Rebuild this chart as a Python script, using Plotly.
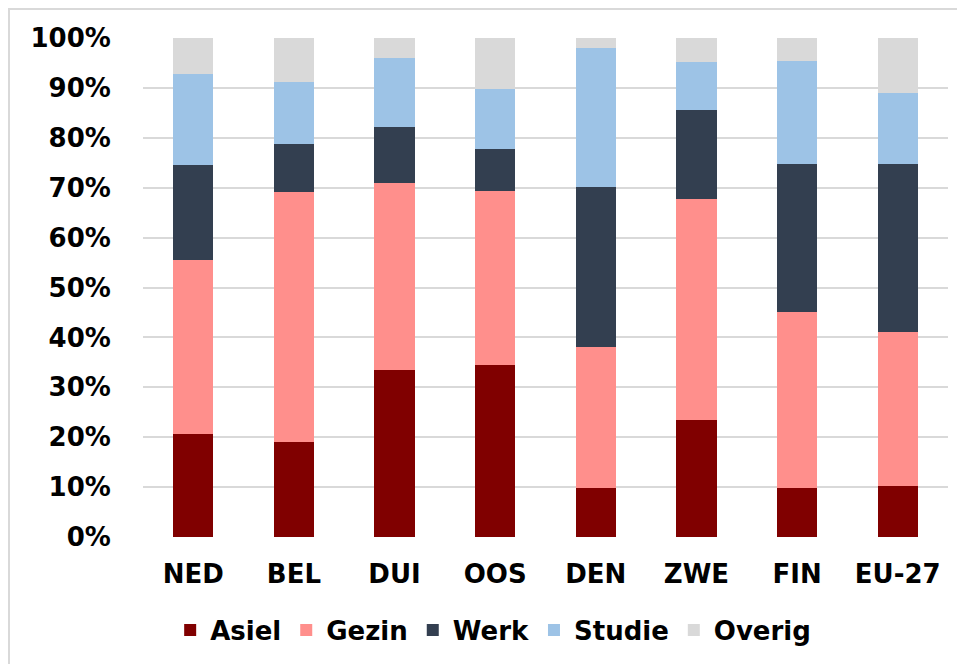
import plotly.graph_objects as go

categories = ["NED", "BEL", "DUI", "OOS", "DEN", "ZWE", "FIN", "EU-27"]
asiel = [20.6, 19.0, 33.4, 34.4, 9.8, 23.4, 9.8, 10.2]
gezin = [35.0, 50.2, 37.6, 35.0, 28.2, 44.4, 35.2, 30.8]
werk = [19.0, 9.6, 11.2, 8.4, 32.2, 17.8, 29.8, 33.8]
studie = [18.2, 12.4, 13.8, 12.0, 27.8, 9.6, 20.6, 14.2]
overig = [7.2, 8.8, 4.0, 10.2, 2.0, 4.8, 4.6, 11.0]

series = [
    ("Asiel", asiel, "#800000"),
    ("Gezin", gezin, "#FF8F8C"),
    ("Werk", werk, "#333F50"),
    ("Studie", studie, "#9DC3E6"),
    ("Overig", overig, "#D9D9D9"),
]

FONT = "DejaVu Sans"
FS = 26

fig = go.Figure()
for name, vals, col in series:
    fig.add_trace(go.Bar(x=categories, y=vals, name=name,
                         marker=dict(color=col, line=dict(width=0))))

fig.update_layout(
    barmode="stack",
    bargap=0.6,
    width=957, height=656,
    margin=dict(l=135, r=17, t=30, b=126),
    paper_bgcolor="white", plot_bgcolor="white",
    font=dict(family=FONT, size=FS, color="black"),
    showlegend=True,
    legend=dict(orientation="h", x=0.435, xanchor="center", y=-0.184, yanchor="middle",
                font=dict(family=FONT, size=FS, color="black", weight="bold"),
                itemwidth=30, traceorder="normal"),
    shapes=[dict(type="rect", xref="paper", yref="paper",
                 x0=(9 - 143) / 805, x1=(990 - 143) / 805,
                 y0=-(690 - 538) / 500, y1=(538 - 9) / 500,
                 line=dict(color="#D9D9D9", width=2), fillcolor="rgba(0,0,0,0)", layer="below")],
)
fig.update_xaxes(showline=False, showgrid=False, ticks="outside", ticklen=14,
                 tickcolor="rgba(0,0,0,0)",
                 tickfont=dict(family=FONT, size=FS, color="black", weight="bold"))
fig.update_yaxes(range=[0, 100], tickvals=[0, 10, 20, 30, 40, 50, 60, 70, 80, 90, 100],
                 ticktext=[f"{v}%" for v in range(0, 101, 10)],
                 showgrid=True, gridcolor="#D9D9D9", gridwidth=2,
                 zeroline=False, showline=False,
                 ticks="outside", ticklen=26, tickcolor="rgba(0,0,0,0)",
                 tickfont=dict(family=FONT, size=FS, color="black", weight="bold"))

fig.write_html("out.html")
